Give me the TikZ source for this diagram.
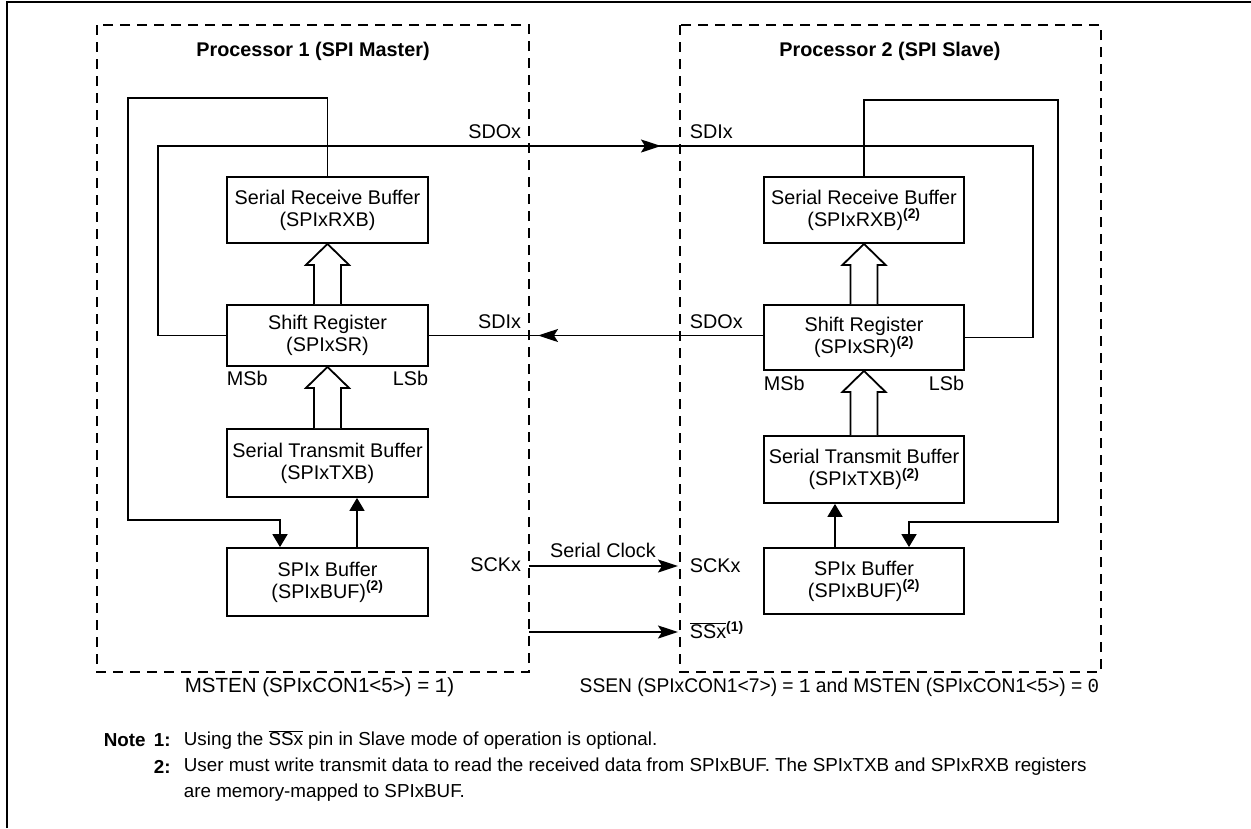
\documentclass[tikz,border=0pt]{standalone}
\usepackage{fontspec}
\setmainfont{Liberation Sans}
\setmonofont{Liberation Mono}
\usetikzlibrary{arrows.meta,calc}

\newcommand{\lbl}{\fontsize{19.8}{22}\selectfont}
\newcommand{\notefont}{\fontsize{18.8}{22}\selectfont}
\newcommand{\sups}[1]{\textsuperscript{\textbf{(#1)}}}
\newcommand{\ovl}[1]{$\overline{\hbox{#1}}$}
% hollow transfer arrow from the lower box up to the upper box
\newcommand{\hollowup}[2]{%
  \draw[fill=white] let \p1=(#1.north), \p2=(#2.south) in
    (\x1-13.5pt,\y1) -- (\x1-13.5pt,\y2-21pt) -- (\x1-21.5pt,\y2-21pt) -- (\x1,\y2)
    -- (\x1+21.5pt,\y2-21pt) -- (\x1+13.5pt,\y2-21pt) -- (\x1+13.5pt,\y1);}

\begin{document}
\begin{tikzpicture}[x=1pt,y=-1pt,line width=1.8pt,
  every node/.style={font=\lbl},
  regbox/.style={draw,minimum width=201pt,align=center,inner sep=0pt},
  procbox/.style={draw,dash pattern=on 10pt off 7pt},
  pin/.style={inner sep=0pt},
  sig/.style={-{Stealth[length=20pt,width=13pt,inset=4pt]}},
  tip/.style={-{Triangle[length=13pt,width=15pt]}}]
\useasboundingbox (0,0) rectangle (1251,828);

\draw (7,828) -- (7,2) -- (1251,2);

\draw[procbox] (97,25) rectangle (529,672);
\draw[procbox] (680,25) rectangle (1101,672);

\node[font=\lbl\bfseries] (title1) at (313,51) {Processor 1 (SPI Master)};
\node[font=\lbl\bfseries] (title2) at (890,51) {Processor 2 (SPI Slave)};

% master
\node[regbox,minimum height=66pt] (rxb1) at (327.5,210) {Serial Receive Buffer\\(SPIxRXB)};
\node[regbox,minimum height=61pt] (sr1) at (327.5,335.5) {Shift Register\\(SPIxSR)};
\node[regbox,minimum height=68pt] (txb1) at (327.5,463) {Serial Transmit Buffer\\(SPIxTXB)};
\node[regbox,minimum height=68pt] (buf1) at (327.5,582) {SPIx Buffer\\(SPIxBUF)\sups{2}};

% slave
\node[regbox,minimum width=200pt,minimum height=66pt] (rxb2) at (864,210) {Serial Receive Buffer\\(SPIxRXB)\sups{2}};
\node[regbox,minimum width=200pt,minimum height=65pt] (sr2) at (864,337.5) {Shift Register\\(SPIxSR)\sups{2}};
\node[regbox,minimum width=200pt,minimum height=67pt] (txb2) at (864,469.5) {Serial Transmit Buffer\\(SPIxTXB)\sups{2}};
\node[regbox,minimum width=200pt,minimum height=66pt] (buf2) at (864,581) {SPIx Buffer\\(SPIxBUF)\sups{2}};

\hollowup{sr1}{rxb1}
\hollowup{txb1}{sr1}
\hollowup{sr2}{rxb2}
\hollowup{txb2}{sr2}

\draw[tip] ([xshift=29.5pt]buf1.north) -- ([xshift=29.5pt]txb1.south);
\draw[tip] ([xshift=-29pt]buf2.north) -- ([xshift=-29pt]txb2.south);

% loops
\draw[tip] (rxb1.north) |- (128,98) -- (128,520) -| ([xshift=-47.5pt]buf1.north);
\draw[tip] (rxb2.north) |- (1058,100) -- (1058,522) -| ([xshift=45pt]buf2.north);

% data lines
\coordinate (sdo1) at (600,146);
\coordinate (sdi2) at (661,146);
\coordinate (sdo2) at (600,335.5);
\coordinate (sdi1) at (538,335.5);
\draw (sr1.west) -| (158,146) -- (1033,146) |- (sr2.east);
\draw[sig] (sdo1) -- (sdi2);
\draw (sr1.east -| sr2.west) -- (sr1.east);
\draw[sig] (sdo2) -- (sdi1);

\coordinate (sck1) at (529,566);
\coordinate (sck2) at (678,566);
\coordinate (ss1) at (529,632);
\coordinate (ss2) at (678,632);
\draw[sig] (sck1) -- (sck2);
\draw[sig] (ss1) -- (ss2);

\node[pin,anchor=east] (sdolbl1) at (522,132) {SDOx};
\node[pin,anchor=east] (sdilbl1) at (522,322) {SDIx};
\node[pin,anchor=east] (scklbl1) at (522,565) {SCKx};
\node[pin,anchor=west] (sdilbl2) at (689,132) {SDIx};
\node[pin,anchor=west] (sdolbl2) at (689,322) {SDOx};
\node[pin,anchor=west] (scklbl2) at (689,566) {SCKx};
\node[pin,anchor=west] (sslbl2) at (689,630) {\ovl{SSx}\sups{1}};
\node[pin] (clklbl) at (603,550) {Serial Clock};

\node[pin,anchor=west] (msb1) at (226,378) {MSb};
\node[pin,anchor=east] (lsb1) at (429,378) {LSb};
\node[pin,anchor=west] (msb2) at (763,383) {MSb};
\node[pin,anchor=east] (lsb2) at (965,383) {LSb};

\node[pin,anchor=west,font=\fontsize{20.5}{24}\selectfont] (mode1) at (184,687) {MSTEN (SPIxCON1<5>) = \texttt{1})};
\node[pin,anchor=east] (mode2) at (1100,687) {\scalebox{0.97}[1]{SSEN (SPIxCON1<7>) = \texttt{1} and MSTEN (SPIxCON1<5>) = \texttt{0}}};

% notes
\node[pin,anchor=west,font=\notefont\bfseries] (note) at (103,740) {Note};
\node[pin,anchor=west,font=\notefont\bfseries] (n1) at (153,740) {1:};
\node[pin,anchor=west,font=\notefont\bfseries] (n2) at (153,767) {2:};
\node[pin,anchor=west,font=\notefont] (t1) at (183,740) {Using the \ovl{SSx} pin in Slave mode of operation is optional.};
\node[pin,anchor=west,font=\notefont] (t2) at (183,767) {User must write transmit data to read the received data from SPIxBUF. The SPIxTXB and SPIxRXB registers};
\node[pin,anchor=west,font=\notefont] (t3) at (183,793) {are memory-mapped to SPIxBUF.};
\end{tikzpicture}
\end{document}
